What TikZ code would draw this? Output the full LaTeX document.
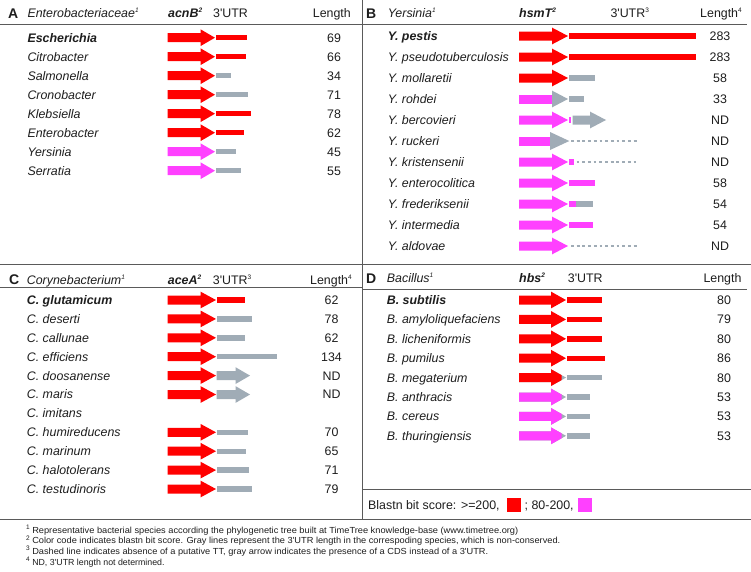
\documentclass[tikz,border=0pt]{standalone}
\usepackage{graphicx}
\usepackage{fontspec}
\setmainfont{Liberation Sans}[Ligatures=TeXOff]
\definecolor{hired}{RGB}{255,0,0}
\definecolor{midmag}{RGB}{255,64,255}
\definecolor{utrgray}{RGB}{160,172,182}
\definecolor{ink}{RGB}{30,30,30}
\definecolor{rulec}{RGB}{90,90,90}
\newcommand\supn[1]{\raisebox{0.42em}{\fontsize{6.5}{7}\selectfont #1}}
% gene arrow: x0, head start, tip, y, colour
\newcommand\garr[5]{\fill[#5] (#1,#4-4.5) -- (#2,#4-4.5) -- (#2,#4-8.4) -- (#3,#4) -- (#2,#4+8.4) -- (#2,#4+4.5) -- (#1,#4+4.5) -- cycle;}
% gene arrow with gray tip: x0, head start, tip, y, colour, cut x
\newcommand\tiparr[6]{\garr{#1}{#2}{#3}{#4}{utrgray}
 \fill[#5] (#1,#4-4.5) -- (#2,#4-4.5) -- (#2,#4-8.4) -- (#6,{#4-8.4*(#3-#6)/(#3-#2)}) -- (#6,{#4+8.4*(#3-#6)/(#3-#2)}) -- (#2,#4+8.4) -- (#2,#4+4.5) -- (#1,#4+4.5) -- cycle;}
% utr bar: x0, x1, y, colour
\newcommand\utrbar[4]{\fill[#4] (#1,#3-2.7) rectangle (#2,#3+2.7);}
\tikzset{
 txt/.style={font=\fontsize{12.4}{14}\selectfont, text=ink, inner sep=0pt, anchor=base west},
 num/.style={font=\fontsize{12.4}{14}\selectfont, text=ink, inner sep=0pt, anchor=base},
 plab/.style={font=\fontsize{14}{16}\selectfont\bfseries, text=ink, inner sep=0pt, anchor=base west},
 fn/.style={font=\fontsize{8.8}{10}\selectfont, text=ink, inner sep=0pt, anchor=base west},
 rulel/.style={draw=rulec, line width=0.9pt},
 dashl/.style={draw=utrgray, line width=1.3pt, dash pattern=on 2.8pt off 2.9pt},
}
\begin{document}
\begin{tikzpicture}[x=1pt,y=-1pt]
\useasboundingbox (0,0) rectangle (751,571);
\fill[white] (0,0) rectangle (751,571);

% ---------- rules ----------
\draw[rulel] (362,0) -- (362,519);
\draw[rulel] (0,24) -- (747,24);
\draw[rulel] (0,264) -- (751,264);
\draw[rulel] (0,287.5) -- (362,287.5);
\draw[rulel] (362,289) -- (747,289);
\draw[rulel] (362,489.3) -- (751,489.3);
\draw[rulel] (0,519) -- (751,519);

% ---------- Panel A ----------
\node[plab] (Alab) at (8,18.3) {A};
\node[txt] (Ahd) at (27.3,17.7) {\itshape Enterobacteriaceae\supn{1}};
\node[txt] (Agene) at (168,17.7) {\bfseries\itshape acnB\supn{2}};
\node[txt] (Autr) at (213,17.7) {3'UTR};
\node[txt] (Alen) at (312.7,17.7) {Length};
\foreach \i/\nm/\n/\ac/\bc in {
 1/{\bfseries Escherichia}/69/hired/hired,
 2/Citrobacter/66/hired/hired,
 3/Salmonella/34/hired/utrgray,
 4/Cronobacter/71/hired/utrgray,
 5/Klebsiella/78/hired/hired,
 6/Enterobacter/62/hired/hired,
 7/Yersinia/45/midmag/utrgray,
 8/Serratia/55/midmag/utrgray}{
 \pgfmathsetmacro\yy{37.7+19*(\i-1)}
 \node[txt] (An\i) at (27.3,\yy+4.45) {\itshape\nm};
 \node[num] (Al\i) at (334,\yy+4.45) {\n};
 \garr{167.5}{200.5}{215}{\yy}{\ac}
 \utrbar{216}{216+0.449*\n}{\yy}{\bc}
}

% ---------- Panel B ----------
\node[plab] (Blab) at (366,18.3) {B};
\node[txt] (Bhd) at (387.7,17.7) {\itshape Yersinia\supn{1}};
\node[txt] (Bgene) at (519,17.7) {\bfseries\itshape hsmT\supn{2}};
\node[txt] (Butr) at (610.3,17.7) {3'UTR\supn{3}};
\node[txt] (Blen) at (700,17.7) {Length\supn{4}};
\foreach \i/\nm/\n in {
 1/{\bfseries Y. pestis}/283,
 2/Y. pseudotuberculosis/283,
 3/Y. mollaretii/58,
 4/Y. rohdei/33,
 5/Y. bercovieri/ND,
 6/Y. ruckeri/ND,
 7/Y. kristensenii/ND,
 8/Y. enterocolitica/58,
 9/Y. frederiksenii/54,
 10/Y. intermedia/54,
 11/Y. aldovae/ND}{
 \pgfmathsetmacro\yy{36+21*(\i-1)}
 \node[txt] (Bn\i) at (387.7,\yy+4.45) {\itshape\nm};
 \node[num] (Bl\i) at (720,\yy+4.45) {\n};
}
% rows 1-3 red
\garr{519}{552}{568}{36}{hired}   \utrbar{569}{569+0.449*283}{36}{hired}
\garr{519}{552}{568}{57}{hired}   \utrbar{569}{569+0.449*283}{57}{hired}
\garr{519}{552}{568}{78}{hired}   \utrbar{569}{569+0.449*58}{78}{utrgray}
% rohdei: magenta body, gray head
\fill[midmag] (519,99-4.5) rectangle (552,99+4.5);
\fill[utrgray] (552,99-8.4) -- (568,99) -- (552,99+8.4) -- cycle;
\utrbar{569}{569+0.449*33}{99}{utrgray}
% bercovieri
\garr{519}{552}{568}{120}{midmag}
\fill[midmag] (569,120-3.3) rectangle (571,120+3.3);
\garr{572.5}{590}{606}{120}{utrgray}
% ruckeri
\fill[midmag] (519,141-4.5) rectangle (550,141+4.5);
\fill[utrgray] (550,141-9) -- (569.3,141) -- (550,141+9) -- cycle;
\draw[dashl] (571,141) -- (638.5,141);
% kristensenii
\garr{519}{552}{568}{162}{midmag}
\fill[midmag] (569,162-2.6) rectangle (574.3,162+2.6);
\draw[dashl] (576.5,162) -- (638.5,162);
% enterocolitica
\garr{519}{552}{568}{183}{midmag}  \utrbar{569}{569+0.449*58}{183}{midmag}
% frederiksenii
\garr{519}{552}{568}{204}{midmag}
\utrbar{575.7}{569+0.449*54}{204}{utrgray}
\utrbar{569}{575.7}{204}{midmag}
% intermedia
\garr{519}{552}{568}{225}{midmag}  \utrbar{569}{569+0.449*54}{225}{midmag}
% aldovae
\garr{519}{552}{568}{246}{midmag}
\draw[dashl] (571,246) -- (638.5,246);

% ---------- Panel C ----------
\node[plab] (Clab) at (9,284.6) {C};
\node[txt] (Chd) at (26.7,284.4) {\itshape Corynebacterium\supn{1}};
\node[txt] (Cgene) at (167.7,284.4) {\bfseries\itshape aceA\supn{2}};
\node[txt] (Cutr) at (212.7,284.4) {3'UTR\supn{3}};
\node[txt] (Clen) at (310,284.4) {Length\supn{4}};
\foreach \i/\nm/\n in {
 1/{\bfseries C. glutamicum}/62,
 2/C. deserti/78,
 3/C. callunae/62,
 4/C. efficiens/134,
 5/C. doosanense/ND,
 6/C. maris/ND,
 7/C. imitans/{},
 8/C. humireducens/70,
 9/C. marinum/65,
 10/C. halotolerans/71,
 11/C. testudinoris/79}{
 \pgfmathsetmacro\yy{300+18.9*(\i-1)}
 \node[txt] (Cn\i) at (26.7,\yy+4.45) {\itshape\nm};
 \node[num] (Cl\i) at (331.5,\yy+4.45) {\n};
}
\foreach \i/\n/\bc in {1/62/hired, 2/78/utrgray, 3/62/utrgray, 4/134/utrgray,
 8/70/utrgray, 9/65/utrgray, 10/71/utrgray, 11/79/utrgray}{
 \pgfmathsetmacro\yy{300+18.9*(\i-1)}
 \garr{167.5}{200.5}{216}{\yy}{hired}
 \utrbar{216.7}{216.7+0.449*\n}{\yy}{\bc}
}
\foreach \i in {5,6}{
 \pgfmathsetmacro\yy{300+18.9*(\i-1)}
 \garr{167.5}{200.5}{216}{\yy}{hired}
 \garr{216.7}{235.5}{250}{\yy}{utrgray}
}

% ---------- Panel D ----------
\node[plab] (Dlab) at (366,283.3) {D};
\node[txt] (Dhd) at (386.7,282.8) {\itshape Bacillus\supn{1}};
\node[txt] (Dgene) at (519,282.8) {\bfseries\itshape hbs\supn{2}};
\node[txt] (Dutr) at (567.7,282.8) {3'UTR};
\node[txt] (Dlen) at (703.3,282.8) {Length};
\foreach \i/\nm/\n in {
 1/{\bfseries B. subtilis}/80,
 2/B. amyloliquefaciens/79,
 3/B. licheniformis/80,
 4/B. pumilus/86,
 5/B. megaterium/80,
 6/B. anthracis/53,
 7/B. cereus/53,
 8/B. thuringiensis/53}{
 \pgfmathsetmacro\yy{300+19.4*(\i-1)}
 \node[txt] (Dn\i) at (386.7,\yy+4.45) {\itshape\nm};
 \node[num] (Dl\i) at (724,\yy+4.45) {\n};
}
\foreach \i/\n in {1/80, 2/79, 3/80, 4/86}{
 \pgfmathsetmacro\yy{300+19.4*(\i-1)}
 \garr{519}{551}{566}{\yy}{hired}
 \utrbar{566.5}{566.5+0.449*\n}{\yy}{hired}
}
\foreach \i/\n/\ac in {5/80/hired, 6/53/midmag, 7/53/midmag, 8/53/midmag}{
 \pgfmathsetmacro\yy{300+19.4*(\i-1)}
 \tiparr{519}{551}{566}{\yy}{\ac}{561.7}
 \utrbar{566.5}{566.5+0.449*\n}{\yy}{utrgray}
}

% ---------- Legend ----------
\node[txt] (lg1) at (368,509.5) {Blastn bit score: >=200,};
\fill[hired] (506.7,498) rectangle (520.7,512) coordinate (sqr);
\node[txt] (lg2) at (524.5,509.5) {; 80-200,};
\fill[midmag] (578,498) rectangle (592,512) coordinate (sqm);

% ---------- Footnotes ----------
\node[fn] (f1) at (26,533.2) {\supn{1} \resizebox{486pt}{\height}{Representative bacterial species according the phylogenetic tree built at TimeTree knowledge-base (www.timetree.org)}};
\node[fn] (f2) at (26,543.9) {\supn{2} \resizebox{528pt}{\height}{Color code indicates blastn bit score. Gray lines represent the 3'UTR length in the correspoding species, which is non-conserved.}};
\node[fn] (f3) at (26,554.5) {\supn{3} \resizebox{456pt}{\height}{Dashed line indicates absence of a putative TT, gray arrow indicates the presence of a CDS instead of a 3'UTR.}};
\node[fn] (f4) at (26,565) {\supn{4} ND, 3'UTR length not determined.};
\end{tikzpicture}
\end{document}
